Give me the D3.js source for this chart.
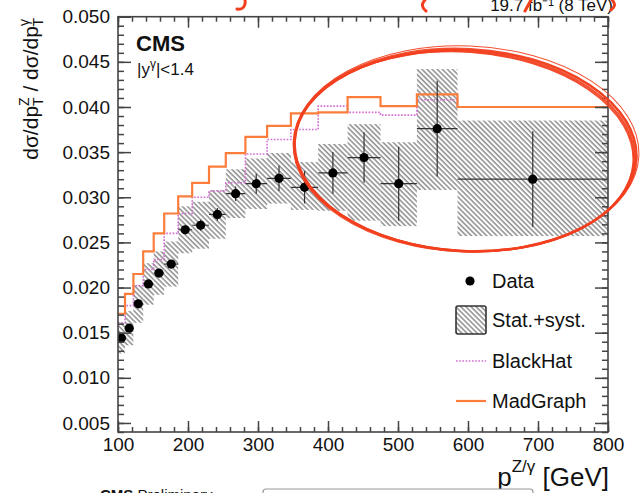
<!DOCTYPE html>
<meta charset="utf-8">
<head>
<script src="https://d3js.org/d3.v7.min.js"></script>
<style>
  body { margin: 0; background: #fff; }
  svg text { font-family: "Liberation Sans", Arial, Helvetica, sans-serif; fill: #111; }
</style>
</head>
<body>
<script>
// bin edges in pT [GeV]
var binEdges = [100, 110, 122, 136, 151, 166, 186, 206, 230, 254, 282, 313, 347, 386, 428, 475, 527, 585, 800];
// measured ratio and uncertainties, one per bin
var dataRatio = [0.0144, 0.0155, 0.0182, 0.0204, 0.0216, 0.0226, 0.0264, 0.0269, 0.0281, 0.0304, 0.0315, 0.0321, 0.0311, 0.0327, 0.0344, 0.0315, 0.0376, 0.0320];
var statErr   = [0.0003, 0.0003, 0.0004, 0.0004, 0.0004, 0.0004, 0.0005, 0.0006, 0.0007, 0.0008, 0.0011, 0.0014, 0.0018, 0.0023, 0.0028, 0.0041, 0.0053, 0.0053];
var totUp     = [0.0017, 0.0019, 0.0021, 0.0023, 0.0024, 0.0025, 0.0026, 0.0026, 0.0027, 0.0027, 0.0028, 0.0028, 0.0028, 0.0032, 0.0037, 0.0046, 0.0066, 0.0065];
var totDown   = [0.0017, 0.0019, 0.0021, 0.0023, 0.0024, 0.0025, 0.0026, 0.0026, 0.0027, 0.0027, 0.0028, 0.0028, 0.0025, 0.0042, 0.0070, 0.0047, 0.0068, 0.0063];
// theory predictions
var blackHat  = [0.0161, 0.0180, 0.0202, 0.0220, 0.0231, 0.0260, 0.0282, 0.0300, 0.0307, 0.0316, 0.0348, 0.0364, 0.0375, 0.0401, 0.0394, 0.0391, 0.0408, 0.0400];
var madGraph  = [0.0171, 0.0193, 0.0215, 0.0240, 0.0260, 0.0282, 0.0301, 0.0316, 0.0334, 0.0349, 0.0367, 0.0379, 0.0393, 0.0394, 0.0411, 0.0401, 0.0414, 0.0400];

var xMajor = [100, 200, 300, 400, 500, 600, 700, 800];
var yMajor = [0.005, 0.010, 0.015, 0.020, 0.025, 0.030, 0.035, 0.040, 0.045, 0.050];
var legendItems = ["Data", "Stat.+syst.", "BlackHat", "MadGraph"];

var width = 642, height = 493;
var x0 = 118, x1 = 608, yTop = 16.7, yBot = 432;

var svg = d3.select("body").append("svg")
  .attr("width", width)
  .attr("height", height);

var x = d3.scaleLinear().domain([100, 800]).range([x0, x1]);
var y = d3.scaleLinear().domain([0.004, 0.050]).range([yBot, yTop]);

var defs = svg.append("defs");
var pat = defs.append("pattern")
  .attr("id", "hatch")
  .attr("patternUnits", "userSpaceOnUse")
  .attr("width", 3.6).attr("height", 10)
  .attr("patternTransform", "rotate(-45)");
pat.append("line")
  .attr("x1", 1).attr("y1", 0).attr("x2", 1).attr("y2", 10)
  .attr("stroke", "#7a7a7a").attr("stroke-width", 1.3);
defs.append("clipPath").attr("id", "frame")
  .append("rect").attr("x", x0).attr("y", yTop).attr("width", x1 - x0).attr("height", yBot - yTop);

var bins = dataRatio.map(function(v, i) {
  return { lo: binEdges[i], hi: binEdges[i + 1], c: (binEdges[i] + binEdges[i + 1]) / 2,
           v: v, stat: statErr[i], up: totUp[i], dn: totDown[i] };
});

var plot = svg.append("g").attr("clip-path", "url(#frame)");

// stat+syst bands
plot.selectAll("rect.band")
  .data(bins)
  .enter().append("rect")
    .attr("class", "band")
    .attr("x", d => x(d.lo))
    .attr("width", d => x(d.hi) - x(d.lo))
    .attr("y", d => y(d.v + d.up))
    .attr("height", d => y(d.v - d.dn) - y(d.v + d.up))
    .attr("fill", "url(#hatch)");

function stepLine(vals) {
  var pts = [];
  vals.forEach(function(v, i) {
    pts.push([x(binEdges[i]), y(v)]);
    pts.push([x(binEdges[i + 1]), y(v)]);
  });
  return d3.line()(pts);
}

plot.append("path")
  .attr("d", stepLine(blackHat))
  .attr("fill", "none")
  .attr("stroke", "#d46bd4")
  .attr("stroke-width", 1.6)
  .attr("stroke-dasharray", "1.6,1.6");

plot.append("path")
  .attr("d", stepLine(madGraph))
  .attr("fill", "none")
  .attr("stroke", "#fb7d3c")
  .attr("stroke-width", 2.2);

// data: error bars and markers
var pts = plot.selectAll("g.pt").data(bins).enter().append("g").attr("class", "pt");
pts.append("line")
  .attr("x1", d => x(d.lo)).attr("x2", d => x(d.hi))
  .attr("y1", d => y(d.v)).attr("y2", d => y(d.v))
  .attr("stroke", "#333").attr("stroke-width", 1.2);
pts.append("line")
  .attr("x1", d => x(d.c)).attr("x2", d => x(d.c))
  .attr("y1", d => y(d.v - d.stat)).attr("y2", d => y(d.v + d.stat))
  .attr("stroke", "#333").attr("stroke-width", 1.2);
pts.append("circle")
  .attr("cx", d => x(d.c)).attr("cy", d => y(d.v))
  .attr("r", 4.6).attr("fill", "#000");

// axes, ROOT style: ticks inside on all four sides
var xMinor = d3.range(100, 801, 20);
var yMinor = d3.range(4, 51, 1).map(d => d / 1000);

function styleAxis(g) {
  g.select(".domain").remove();
  g.selectAll("line").attr("stroke", "#444").attr("stroke-width", 1.5);
  g.selectAll("text").style("font-size", "19px").attr("fill", "#111");
}

svg.append("g").attr("transform", "translate(0," + yBot + ")")
  .call(d3.axisBottom(x).tickValues(xMinor).tickSize(-5).tickFormat(""))
  .call(styleAxis);
svg.append("g").attr("transform", "translate(0," + yBot + ")")
  .call(d3.axisBottom(x).tickValues(xMajor).tickSize(-11).tickPadding(6).tickFormat(d3.format("d")))
  .call(styleAxis);
svg.append("g").attr("transform", "translate(0," + yTop + ")")
  .call(d3.axisTop(x).tickValues(xMinor).tickSize(-5).tickFormat(""))
  .call(styleAxis);
svg.append("g").attr("transform", "translate(0," + yTop + ")")
  .call(d3.axisTop(x).tickValues(xMajor).tickSize(-11).tickFormat(""))
  .call(styleAxis);

svg.append("g").attr("transform", "translate(" + x0 + ",0)")
  .call(d3.axisLeft(y).tickValues(yMinor).tickSize(-6).tickFormat(""))
  .call(styleAxis);
svg.append("g").attr("transform", "translate(" + x0 + ",0)")
  .call(d3.axisLeft(y).tickValues(yMajor).tickSize(-13).tickPadding(8).tickFormat(d3.format(".3f")))
  .call(styleAxis);
svg.append("g").attr("transform", "translate(" + x1 + ",0)")
  .call(d3.axisRight(y).tickValues(yMinor).tickSize(-6).tickFormat(""))
  .call(styleAxis);
svg.append("g").attr("transform", "translate(" + x1 + ",0)")
  .call(d3.axisRight(y).tickValues(yMajor).tickSize(-13).tickFormat(""))
  .call(styleAxis);

svg.append("rect")
  .attr("x", x0).attr("y", yTop).attr("width", x1 - x0).attr("height", yBot - yTop)
  .attr("fill", "none").attr("stroke", "#444").attr("stroke-width", 1.6);

// labels
svg.append("text").attr("x", 136).attr("y", 51)
  .style("font-size", "22px").style("font-weight", "bold").text("CMS");
var rap = svg.append("text").attr("x", 137).attr("y", 75).style("font-size", "17px");
rap.append("tspan").text("|y");
rap.append("tspan").attr("dy", -7).style("font-size", "12px").text("γ");
rap.append("tspan").attr("dy", 7).text("|<1.4");

// y title (rotated)
var yt = svg.append("text")
  .attr("transform", "translate(38,18) rotate(-90)")
  .attr("text-anchor", "end")
  .style("font-size", "21px");
yt.append("tspan").text("dσ/dp");
yt.append("tspan").attr("dy", -9).style("font-size", "14px").text("Z");
yt.append("tspan").attr("dx", -8.6).attr("dy", 14).style("font-size", "14px").text("T");
yt.append("tspan").attr("dy", -5).text(" / dσ/dp");
yt.append("tspan").attr("dy", -9).style("font-size", "14px").text("γ");
yt.append("tspan").attr("dx", -7.5).attr("dy", 14).style("font-size", "14px").text("T");

// x title
var xt = svg.append("text").attr("x", 609).attr("y", 486)
  .attr("text-anchor", "end").style("font-size", "26px");
xt.append("tspan").text("p");
xt.append("tspan").attr("dy", -14).style("font-size", "17px").text("Z/γ");
xt.append("tspan").attr("dy", 14).text(" [GeV]");

// legend
var lg = svg.append("g");
lg.append("circle").attr("cx", 470).attr("cy", 281).attr("r", 4.6).attr("fill", "#000");
lg.append("rect").attr("x", 456).attr("y", 306).attr("width", 30).attr("height", 28).attr("rx", 2)
  .attr("fill", "url(#hatch)").attr("stroke", "#333").attr("stroke-width", 1.6);
lg.append("line").attr("x1", 456).attr("x2", 486).attr("y1", 361).attr("y2", 361)
  .attr("stroke", "#d46bd4").attr("stroke-width", 1.6).attr("stroke-dasharray", "1.6,1.6");
lg.append("line").attr("x1", 456).attr("x2", 486).attr("y1", 401).attr("y2", 401)
  .attr("stroke", "#fb7d3c").attr("stroke-width", 2.2);
lg.selectAll("text.leg").data(legendItems).enter().append("text")
  .attr("class", "leg")
  .attr("x", 492)
  .attr("y", (d, i) => [288, 327, 368, 408][i])
  .style("font-size", "20px")
  .text(d => d);

// luminosity label, cut by the top edge
svg.append("text").attr("x", 613).attr("y", 11).attr("text-anchor", "end")
  .style("font-size", "17px").text("19.7 fb⁻¹ (8 TeV)");

// neighbouring figure peeking in at the bottom
svg.append("text").attr("x", 100).attr("y", 500).style("font-size", "15px")
  .html('<tspan font-weight="bold">CMS</tspan> Preliminary');
svg.append("rect").attr("x", 263).attr("y", 489).attr("width", 270).attr("height", 30).attr("rx", 3)
  .attr("fill", "#fff").attr("stroke", "#999").attr("stroke-width", 1.2);

// red hand-drawn annotation: several close strokes give a brush look
var red = "#f2401f";
var ell = svg.append("g").attr("fill", "none").attr("stroke", red).attr("stroke-linecap", "round");
[[465, 150, 171, 101, 3, 2.4], [464.5, 151, 170, 100, 3.5, 2.4], [465.5, 150.5, 171.5, 100.5, 2.8, 1.8],
 [464, 151.5, 169.5, 99.5, 4, 1.6], [466, 149, 173, 103, 2.2, 1.0]]
  .forEach(function(e) {
    ell.append("ellipse")
      .attr("cx", 0).attr("cy", 0).attr("rx", e[2]).attr("ry", e[3])
      .attr("transform", "translate(" + e[0] + "," + e[1] + ") rotate(" + e[4] + ")")
      .attr("stroke-width", e[5]).attr("opacity", 0.92);
  });
var scrib = svg.append("g").attr("fill", "none").attr("stroke", red).attr("stroke-width", 3).attr("stroke-linecap", "round");
scrib.append("path").attr("d", "M245,0 C246,6 243,10 237,9");
scrib.append("path").attr("d", "M425,0 C421,4 422,8 426,11");
scrib.append("path").attr("d", "M531,0 L525,11");
scrib.append("path").attr("d", "M612,0 C616,4 615,7 611,10");
</script>
</body>
